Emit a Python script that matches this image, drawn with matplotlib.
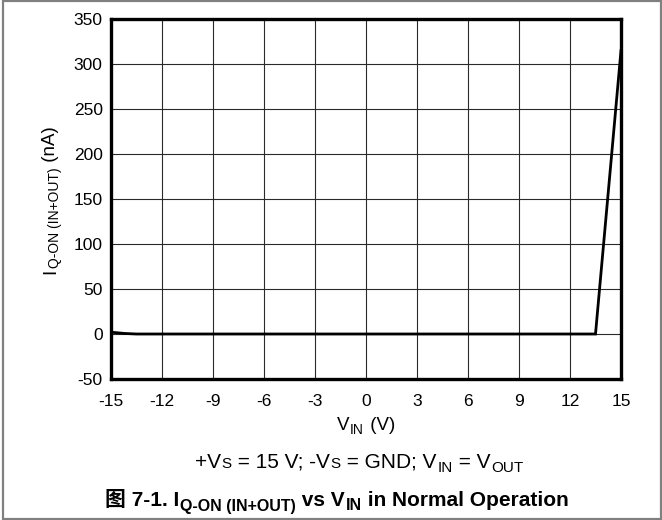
import matplotlib
matplotlib.use("Agg")
import matplotlib.pyplot as plt
from matplotlib.patches import Rectangle

# Quiescent current (IN+OUT) versus input voltage
vin_v = [-15.0, -14.2, -13.5, 13.5, 15.0]
iq_na = [2.0, 0.6, 0.0, 0.0, 315.0]

x_ticks = [-15, -12, -9, -6, -3, 0, 3, 6, 9, 12, 15]
y_ticks = [-50, 0, 50, 100, 150, 200, 250, 300, 350]

W, H, DPI = 662, 520, 100
LATIN = ["Liberation Sans", "DejaVu Sans"]
CJK = ["Noto Sans CJK SC", "Liberation Sans", "DejaVu Sans"]

plt.rcParams["font.family"] = LATIN
plt.rcParams["axes.unicode_minus"] = False

fig = plt.figure(figsize=(W / DPI, H / DPI), dpi=DPI, facecolor="white")


def fx(px):
    return px / W


def fy(py):
    return 1 - py / H


# plot area in pixel coordinates
L, R, T, B = 111, 621, 19, 379
ax = fig.add_axes([fx(L), fy(B), (R - L) / W, (B - T) / H])
ax.plot(vin_v, iq_na, color="black", lw=2.0, solid_joinstyle="miter", zorder=3)
ax.set_xlim(-15, 15)
ax.set_ylim(-50, 350)
ax.set_xticks(x_ticks)
ax.set_xticklabels([str(t) for t in x_ticks])
ax.set_yticks(y_ticks)
ax.set_yticklabels([str(t) for t in y_ticks])
ax.tick_params(axis="both", length=0, labelsize=12.5, colors="black")
ax.tick_params(axis="x", pad=10.8)
ax.tick_params(axis="y", pad=6)
ax.grid(True, color="#2a2a2a", lw=0.8)
ax.set_axisbelow(True)
for sp in ax.spines.values():
    sp.set_linewidth(2.4)
    sp.set_color("black")
    sp.set_zorder(4)


def text_runs(xc, yc, runs, rotation=0, gap=0.6):
    """Lay out (text, size, drop_px, kwargs) runs centred on (xc, yc) in px."""
    renderer = fig.canvas.get_renderer()
    arts = []
    for s, size, drop, kw in runs:
        t = fig.text(0, 0, s, fontsize=size, rotation=rotation,
                     rotation_mode="anchor", ha="left", va="baseline", **kw)
        ext = t.get_window_extent(renderer)
        adv = (ext.width if rotation == 0 else ext.height) + gap
        arts.append((t, adv, drop))
    total = sum(a for _, a, _ in arts) - gap
    pos = 0.0
    for t, adv, drop in arts:
        if rotation == 0:
            X, Y = xc - total / 2 + pos, yc + drop
        else:
            X, Y = xc + drop, yc + total / 2 - pos
        t.set_position((fx(X), fy(Y)))
        pos += adv


reg = dict(family=LATIN, color="black")
bold = dict(family=LATIN, color="black", weight="bold")
bold_cjk = dict(family=CJK, color="black", weight="bold")

# y axis label
text_runs(55, 200, [
    ("I", 13.5, 0, reg),
    ("Q-ON (IN+OUT)", 10, 3.5, reg),
    (" (nA)", 13.5, 0, reg),
], rotation=90)

# x axis label
text_runs(366, 430, [
    ("V", 13.5, 0, reg),
    ("IN", 10, 3.5, reg),
    (" (V)", 13.5, 0, reg),
])

# test conditions
text_runs(359, 468, [
    ("+V", 15, 0, reg),
    ("S", 11, 0, reg),
    (" = 15 V; -V", 15, 0, reg),
    ("S", 11, 0, reg),
    (" = GND; V", 15, 0, reg),
    ("IN", 11, 4, reg),
    (" = V", 15, 0, reg),
    ("OUT", 11, 4, reg),
])

# figure caption
text_runs(337, 506, [
    ("图", 15, 0, bold_cjk),
    (" 7-1. I", 15, 0, bold),
    ("Q-ON (IN+OUT)", 11.5, 4.5, bold),
    (" vs V", 15, 0, bold),
    ("IN", 11.5, 4.5, bold),
    (" in Normal Operation", 15, 0, bold),
])

# frame around the whole figure
fig.add_artist(Rectangle((fx(2.5), fy(518.8)), fx(660.8) - fx(2.5),
                         fy(1.2) - fy(518.8), transform=fig.transFigure,
                         fill=False, edgecolor="#808080", lw=1.6))

fig.savefig("out.png", dpi=DPI, facecolor="white")
